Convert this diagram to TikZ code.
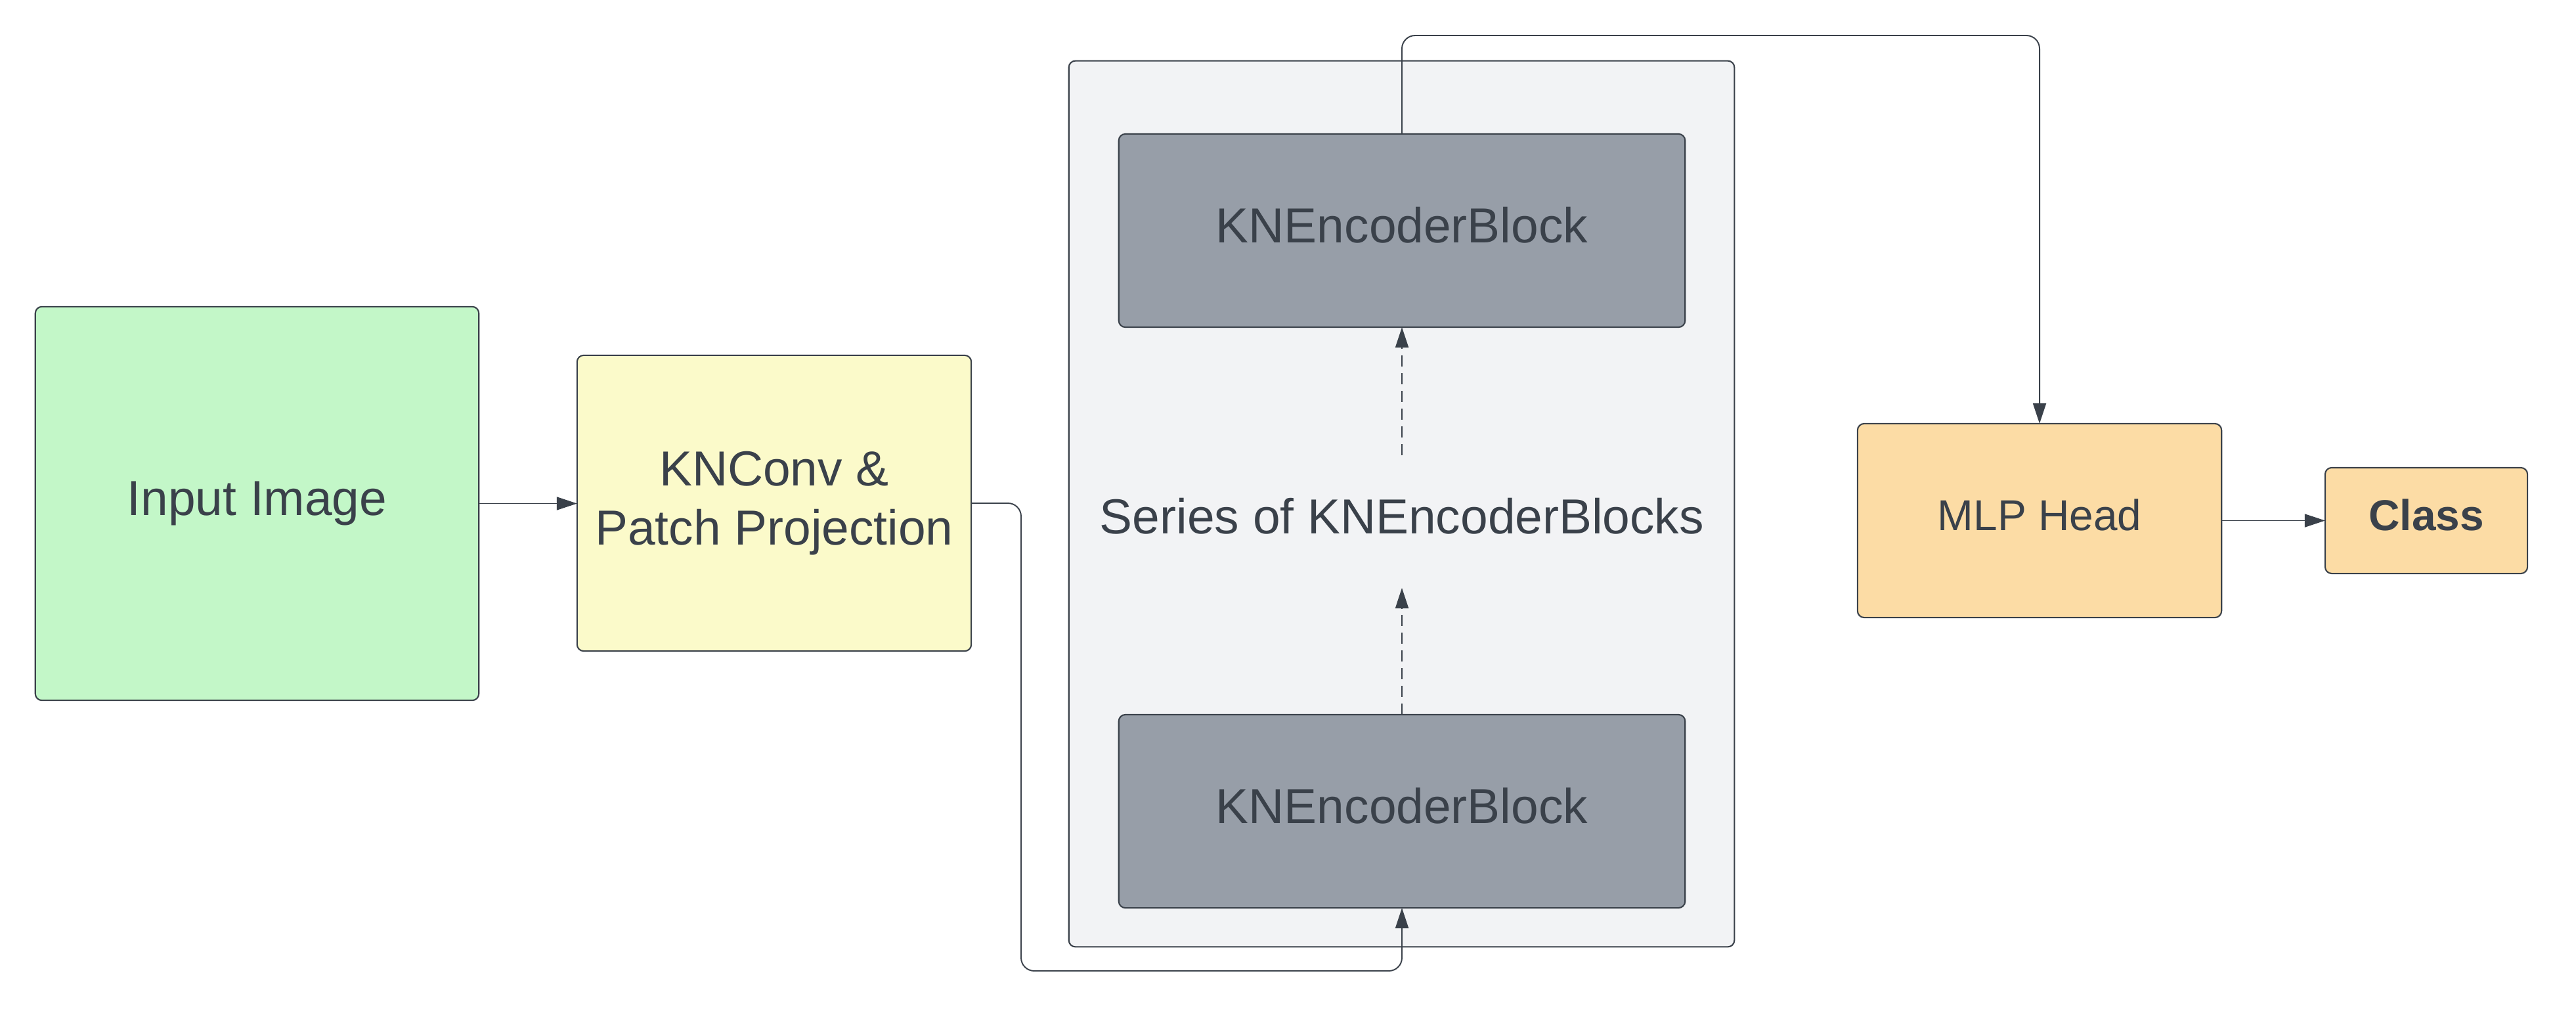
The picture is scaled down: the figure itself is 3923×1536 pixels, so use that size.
\documentclass[tikz,border=0pt]{standalone}
\usepackage{fontspec}
\setmainfont{Liberation Sans}
\usetikzlibrary{arrows.meta}
\definecolor{ink}{HTML}{3A414A}
\definecolor{fgreen}{HTML}{C3F7C8}
\definecolor{fyellow}{HTML}{FBFACA}
\definecolor{forange}{HTML}{FCDCA5}
\definecolor{fgray}{HTML}{979EA8}
\definecolor{fcont}{HTML}{F2F3F5}
\tikzset{
  boxstyle/.style={draw=ink, line width=0.6pt, rounded corners=0.1cm, inner sep=0pt, outer sep=0pt, text=ink, align=center},
  bigtext/.style={font=\fontsize{21.3}{25.6}\selectfont},
  smalltext/.style={font=\fontsize{18.7}{22.4}\selectfont},
  nodesc/.style={text depth=0.17cm},
  conn/.style={draw=ink, line width=0.55pt, -{Triangle[length=0.31cm,width=0.2cm]}},
  dashconn/.style={conn, dash pattern=on 0.17cm off 0.10cm}
}
\begin{document}
\begin{tikzpicture}[x=0.01cm, y=-0.01cm]
\useasboundingbox (0,0) rectangle (3923,1536);
% container
\node[boxstyle, fill=fcont, minimum width=10.13cm, minimum height=13.48cm] (cont) at (2134.5,767) {};
% boxes
\node[boxstyle, bigtext, fill=fgreen, minimum width=6.75cm, minimum height=5.99cm] (inp) at (391.5,766.5) {Input Image};
\node[boxstyle, bigtext, fill=fyellow, minimum width=6.00cm, minimum height=4.50cm] (conv) at (1179,766) {KNConv \&\\Patch Projection};
\node[boxstyle, bigtext, nodesc, fill=fgray, minimum width=8.62cm, minimum height=2.94cm] (top) at (2135,351) {KNEncoderBlock};
\node[boxstyle, bigtext, nodesc, fill=fgray, minimum width=8.62cm, minimum height=2.94cm] (bot) at (2135,1235) {KNEncoderBlock};
\node[bigtext, text=ink, inner sep=0pt] (series) at (2135,786) {Series of KNEncoderBlocks};
\node[boxstyle, smalltext, fill=forange, nodesc, minimum width=5.54cm, minimum height=2.95cm] (mlp) at (3106,792.5) {MLP Head};
\node[boxstyle, fill=forange, nodesc, minimum width=3.08cm, minimum height=1.61cm, font=\fontsize{18.7}{22.4}\selectfont\bfseries] (cls) at (3695,792.5) {Class};
% helper coordinates
\coordinate (d1) at (2135,693);
\coordinate (d2) at (2135,895);
\coordinate (ytop) at (3106,54);
\coordinate (xl) at (1555,1478);
% connectors
\draw[conn] (inp.east) -- (inp.east -| conv.west);
\draw[conn, rounded corners=0.2cm] (conv.east) -| (xl) -| (bot.south);
\draw[dashconn] (bot.north) -- (d2);
\draw[dashconn] (d1) -- (top.south);
\draw[conn, rounded corners=0.2cm] (top.north) |- (ytop) -- (mlp.north);
\draw[conn] (mlp.east) -- (cls.west);
\end{tikzpicture}
\end{document}
